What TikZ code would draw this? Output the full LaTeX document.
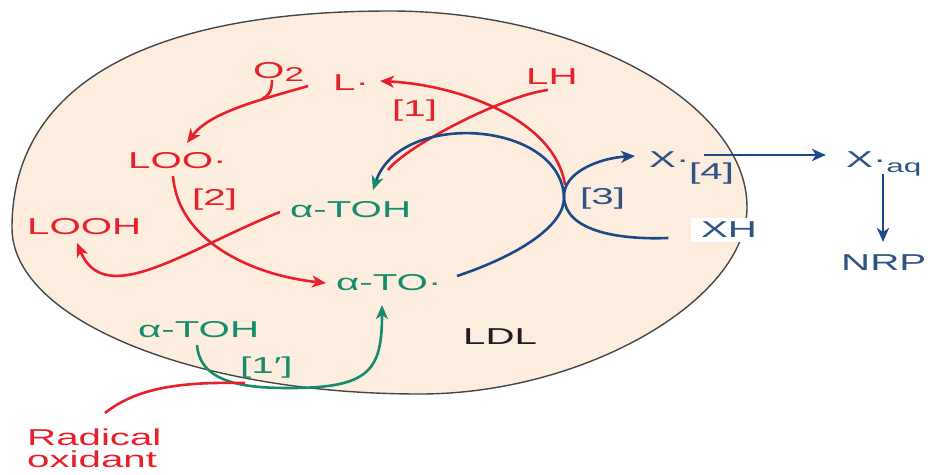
\documentclass[tikz,border=0pt]{standalone}
\usepackage{fontspec}
\setmainfont{Liberation Sans}[FakeStretch=1.75]
\usetikzlibrary{arrows.meta}
\definecolor{ldlfill}{RGB}{253,237,223}
\definecolor{ldledge}{RGB}{70,70,70}
\definecolor{cred}{RGB}{232,32,42}
\definecolor{cgreen}{RGB}{22,140,108}
\definecolor{cblue}{RGB}{28,74,136}
\definecolor{cbluetxt}{RGB}{48,82,130}
\definecolor{ldltxt}{RGB}{30,30,36}
\tikzset{
  txt/.style={inner sep=0pt, anchor=base west, font=\fontsize{23}{26}\selectfont},
  rtxt/.style={txt, text=cred},
  gtxt/.style={txt, text=cgreen},
  btxt/.style={txt, text=cbluetxt},
  rline/.style={draw=cred, line width=2.6pt},
  gline/.style={draw=cgreen, line width=2.6pt},
  bline/.style={draw=cblue, line width=2.6pt},
  arr/.style={-{Stealth[length=14pt,width=12pt,inset=4pt]}},
  garr/.style={-{Stealth[length=14pt,width=12pt,inset=4pt,color=cgreen]}},
}
\begin{document}
\begin{tikzpicture}[x=1pt,y=1pt]
\useasboundingbox (0,0) rectangle (928,-474);

% LDL particle
\draw[fill=ldlfill, draw=ldledge, line width=1.4pt]
  (12,-228) .. controls (12,-87) and (144,-11) .. (390,-11)
  .. controls (580,-11) and (747,-103) .. (747,-207)
  .. controls (747,-300) and (584,-394) .. (420,-394)
  .. controls (195,-394) and (12,-320) .. cycle;

% species
\node[rtxt] (LOO) at (128,-168) {LOO·};
\node[rtxt] (O2) at (253,-78) {O\raisebox{-3pt}{\fontsize{20}{20}\selectfont 2}};
\node[rtxt] (L) at (333,-90) {L·};
\node[rtxt] (LH) at (526,-84) {LH};
\node[rtxt] (r1) at (392,-116) {[1]};
\node[rtxt] (r2) at (192,-205) {[2]};
\node[gtxt] (TOHa) at (290,-217) {α-TOH};
\node[rtxt] (LOOH) at (27,-234) {LOOH};
\node[gtxt] (TO) at (336,-290) {α-TO·};
\node[gtxt] (TOHb) at (138,-337) {α-TOH};
\node[gtxt] (r1p) at (240,-373) {[1′]};
\node[txt, text=ldltxt] (LDL) at (463,-344) {LDL};
\node[rtxt] (rad1) at (27,-445) {Radical};
\node[rtxt] (rad2) at (27,-467) {oxidant};
\node[btxt] (r3) at (580,-204) {[3]};
\node[btxt] (X) at (649,-167) {X·};
\node[btxt] (r4) at (689,-179) {[4]};
\node[btxt] (Xaq) at (846,-167) {X·\raisebox{-5pt}{\fontsize{18}{18}\selectfont aq}};
\node[btxt, fill=white, anchor=center, minimum width=77pt, minimum height=24pt] (XH) at (729,-230) {XH};
\node[btxt] (NRP) at (841,-270) {NRP};

\coordinate (kiss) at (564,-197);

% lipid peroxidation chain
\draw[rline, arr] ([shift={(-25,4)}]L.base west)
  .. controls +(-48,-14) and +(23,31) .. ([shift={(59,25)}]LOO.base west);
\draw[rline] ([shift={(19,-2)}]O2.base west)
  .. controls +(0,-12) and +(6,3) .. ([shift={(9,-21)}]O2.base west);
\draw[rline, arr] ([shift={(39,-101)}]LH.base west)
  .. controls +(-10,65) and +(80,-4) .. ([shift={(47,9)}]L.base west);

% regeneration of alpha-TOH
\draw[rline] ([shift={(22,-6)}]LH.base west)
  .. controls +(-43,-5) and +(18,24) .. ([shift={(98,47)}]TOHa.base west);
\draw[bline, garr] ([shift={(121,14)}]TO.base west)
  .. controls +(63,21) and +(1,-28) .. (kiss)
  .. controls +(-4,77) and +(27,80) .. ([shift={(83,27)}]TOHa.base west);

% [2]
\draw[rline, arr] ([shift={(45,-8)}]LOO.base west)
  .. controls +(5,-64) and +(-76,8) .. ([shift={(-10,7)}]TO.base west);
\draw[rline, arr] ([shift={(-10,5)}]TOHa.base west)
  .. controls +(-95,-38) and +(28,-67) .. ([shift={(50,-9)}]LOOH.base west);

% [1']
\draw[gline, arr] ([shift={(59,-8)}]TOHb.base west)
  .. controls +(3,-40) and +(-40,0) .. (290,-388)
  .. controls +(80,0) and +(0,-65) .. ([shift={(46,-15)}]TO.base west);
\draw[rline] ([shift={(78,32)}]rad1.base west)
  .. controls +(35,28) and +(-55,1) .. (245,-383);

% [3] and [4]
\draw[bline, arr] ([shift={(-22,-8)}]XH.west)
  .. controls +(-53,-2) and +(1,-33) .. (kiss)
  .. controls +(-1,25) and +(-35,-2) .. ([shift={(-14,11)}]X.base west);
\draw[bline, arr] ([shift={(55,12)}]X.base west) -- ([shift={(-20,12)}]Xaq.base west);
\draw[bline, arr] ([shift={(37,-7)}]Xaq.base west) -- ([shift={(42,28)}]NRP.base west);
\end{tikzpicture}
\end{document}
